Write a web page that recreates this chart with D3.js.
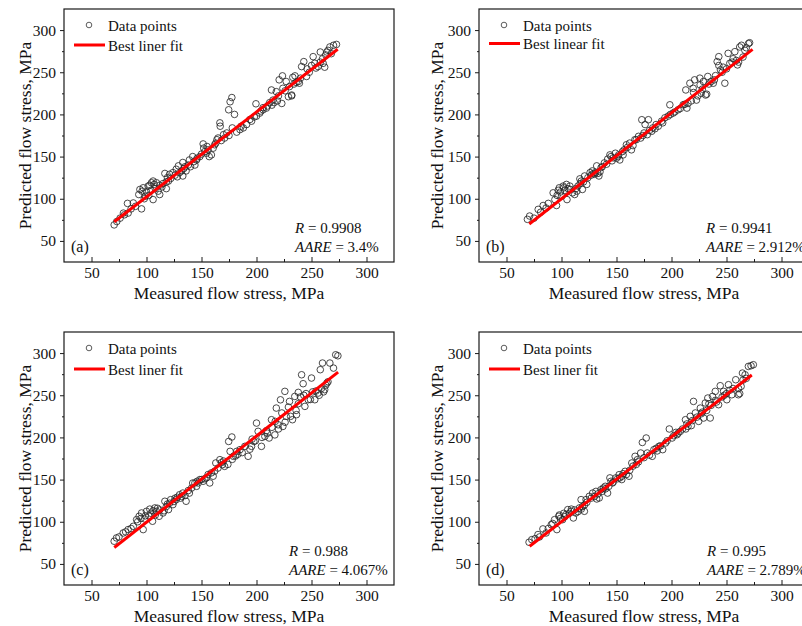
<!DOCTYPE html>
<html><head><meta charset="utf-8">
<script src="https://cdn.jsdelivr.net/npm/d3@7"></script>
<style>
body{margin:0;background:#fff}
svg{display:block}
text{font-family:"Liberation Serif","Times New Roman",serif;fill:#111}
</style>
</head><body>
<svg id="chart" width="802" height="626"></svg>
<script>
// ---------- data ----------
const axisDomain = [25, 325];
const majorTicks = [50, 100, 150, 200, 250, 300];
const minorTicks = [75, 125, 175, 225, 275];
const xTitle = "Measured flow stress, MPa";
const yTitle = "Predicted flow stress, MPa";
const panelLetters = ["(a)", "(b)", "(c)", "(d)"];
const pointLabel = "Data points";
const fitLabels = ["Best liner fit", "Best linear fit", "Best liner fit", "Best liner fit"];
const rValues = ["0.9908", "0.9941", "0.988", "0.995"];
const aareValues = ["3.4%", "2.912%", "4.067%", "2.789%"];

const fitA = [[70.7, 72.8], [273.8, 277.2]];
const fitB = [[70.7, 70.0], [273.7, 277.2]];
const fitC = [[70.7, 69.5], [274.2, 277.4]];
const fitD = [[71.0, 71.0], [273.0, 274.0]];

const pointsA = [[70.6,69],[73,73],[79,83],[82.7,94.5],[83.3,83],[88,95],[93,105],[94,111],[97,113],[95.5,88],[99,103],[101.5,115],[104.5,119],[106,121],[106,99],[109,119],[110.6,109],[112,105],[116.7,130],[118,112],[120,121],[121,129],[124,131],[127,135],[129,139],[132,133],[133,143],[133,127],[136,133],[139,146],[142,150],[144,140],[145.5,146],[148.5,150],[151.5,165],[152,160],[154.5,154],[157,150],[159,152],[160.6,160],[163,166],[165,172],[166.7,190],[167,186],[170,176],[173,178],[174.7,205.5],[176,215],[177.6,220],[180,200],[178,184],[182,179],[185,182],[188,184],[191,188],[195.5,192],[199.5,212.6],[200,198],[203,201.6],[206,205.5],[209,207.5],[213.6,229],[215,217],[218,227],[220.6,241],[223.6,245.7],[223,213],[227,239],[229,221],[232,223],[233,244],[235,245.7],[238,239],[241,256.7],[243,262.6],[245.5,245],[251.5,268.5],[253,260.6],[256,256.7],[258,274],[260.6,260.6],[263,270.5],[265,276],[266.7,280],[270,282],[272.7,283],
[76,77],[80,81],[86,88],[90,91],[98,100],[100,108],[102,104],[104,110],[108,112],[112,116],[114,114],[118,120],[122,124],[126,128],[130,131],[134,136],[138,140],[140,138],[146,148],[150,153],[153,156],[156,158],[162,164],[168,169],[175,175],[186,186],[194,194],[198,197],[204,204],[206,208],[210,210],[212,214],[216,214],[220,222],[226,228],[230,233],[232,222],[236,238],[240,243],[248,250],[254,255],[258,262],[262,256],[268,272],
[96,109],[103,116],[107,117],[115,118],[119,125],[128,126],[135,138],[143,144],[155,162],[164,170],[171,172],[214,211],[219,216],[224,231],[234,236],[239,237],[246,254],[250,258],[260,266],[264,274]];

const pointsB = [[69,75.6],[71,79.5],[78.8,87.4],[83.3,92],[88,94.5],[92.4,107],[94,99],[95.5,92],[98,113],[100,103],[101.5,115],[104.5,117],[105,99],[107.6,115],[110,107],[112,105],[115,115],[116.7,123.6],[119,111],[121,127],[123,117],[126,131],[128,133],[130,129],[132,139],[134,127],[136,137],[139,142.5],[142,147],[144,152],[147,148.5],[149,154],[151.5,150],[153,146],[155.5,156],[159,164],[162,166],[163.6,158],[166.7,170],[170,174],[173,193.7],[176,188],[179,193.7],[178,176],[182,180],[183,184],[186,188],[191,192],[194,196],[197,198],[198.5,211.4],[201.5,201.6],[206,205.5],[210.6,211.4],[213,229],[214,207.5],[216.7,237],[219.7,231],[221,241],[222.7,217],[225.8,243],[227,225],[229,239],[231,223],[233,245],[236,239],[239,241],[241.5,262.6],[243,268.5],[244.5,252.8],[248.5,237],[251.5,272.4],[253,260.6],[257.6,274.4],[260,258.7],[262,280],[263.6,282],[266.7,276],[270,284],[271,285],
[75,77],[81,84],[86,89],[96,104],[99,108],[103,110],[106,112],[113,112],[117,118],[120,120],[124,125],[127,128],[131,131],[133,130],[137,138],[141,141],[146,145],[150,148],[152,152],[157,158],[160,161],[165,163],[168,170],[172,172],[175,178],[180,181],[188,186],[192,190],[199,200],[203,203],[208,207],[212,212],[218,216],[224,222],[228,230],[234,236],[238,237],[246,250],[250,254],[255,262],[259,264],[265,268],[268,279],
[97,110],[102,113],[108,111],[114,109],[118,121],[129,130],[135,132],[145,150],[156,152],[174,175],[185,183],[215,213],[220,226],[226,235],[232,224],[240,246],[243,258],[247,256],[256,266],[261,262]];

const pointsC = [[70.6,76.9],[72.7,80.8],[78.8,86.7],[83.3,90.7],[88,94.6],[91,102.5],[93.3,106.5],[95.5,110.4],[97,90.7],[98.5,103.3],[100,112.4],[103,115],[105.5,100.6],[107.6,116.4],[109,112.4],[111.5,106.5],[115,110.4],[116.7,124.3],[120,114.4],[122,126.2],[124,120.3],[127,126.2],[130,132],[133,134],[136,124.3],[139,134],[142,145.9],[145.5,142],[148.5,150],[151.5,148],[154.5,152],[157.5,146],[160.6,154],[163,169.7],[165,163.7],[166.7,173.6],[169,167.7],[171,165.7],[174.7,195.2],[177.6,200.5],[176,183.5],[179,177.6],[182,183.5],[185,185.5],[189.4,189.4],[192.4,177.6],[195.5,189.4],[197.6,195.2],[200,217],[201.5,207.2],[204.5,189.4],[207.6,201.2],[211.5,199.3],[213.6,221],[216.7,203],[218,234.8],[219.7,215],[221.8,244.6],[224,213],[225.8,254.6],[227,225],[230,242.7],[232.7,221],[234.8,248.6],[236.4,227],[238,253.4],[241,274.3],[242.4,263.7],[244,236.8],[247,244.7],[250,270.4],[253,244.7],[256,252.6],[258,280.3],[260,288.2],[262,256.6],[264,264.5],[266.7,288.2],[270,282.2],[272,298],[274,296.8],
[75,82],[81,88],[86,92],[92,100],[95,104],[102,107],[104,110],[108,108],[112,114],[116,113],[118,118],[121,122],[125,124],[128,129],[131,128],[135,131],[138,137],[141,140],[144,146],[147,146],[150,150],[153,151],[156,156],[159,158],[162,160],[168,170],[174,168],[178,174],[183,180],[187,182],[194,186],[199,196],[205,200],[210,205],[214,212],[220,210],[226,218],[231,225],[236,232],[240,248],[245,252],[249,245],[254,255],[259,258],[263,262],
[99,107],[106,113],[110,116],[119,121],[126,128],[132,130],[146,148],[170,172],[181,178],[196,198],[209,208],[217,219],[223,229],[229,236],[238,240],[243,250],[251,254],[257,250],[261,254],[265,266]];

const pointsD = [[70.5,75.7],[73,78.8],[78.6,84.8],[83.1,91.5],[86,86.7],[90.7,96.5],[93.7,102.5],[95.8,90.7],[97.6,106.5],[101,102.5],[104,108.5],[105.7,114.4],[108.7,112.4],[110.8,104.5],[113,110.4],[116.3,116.4],[117.8,126.2],[120.8,112.4],[122.3,126.2],[125.3,130.2],[128.3,134],[131.3,136],[134.3,128.2],[135.8,138],[139.8,142],[141.9,134],[144,152],[146.4,146],[149.4,152],[152.4,155.8],[154.8,150],[157.8,159.8],[161.4,154],[163.9,169.7],[166.9,177.6],[169,173.6],[172,181.5],[173.5,194],[177,199.3],[178,181.5],[182.5,177.6],[184,185.5],[188.6,189.4],[192,185.5],[194.6,193.4],[198,210],[200.6,199.3],[205,203.2],[208,207.2],[212.7,221],[215,213],[217,225],[220,242.7],[221.7,229],[224.7,219],[226.2,234.8],[229.2,223],[230.7,240.8],[233,246.7],[235.2,223],[237.3,248.6],[239.8,254.6],[242.8,238.8],[244.3,261.3],[247.3,254.6],[250.3,244.7],[251.8,262.5],[254.8,250.6],[258.4,268.4],[260.8,250.6],[263.3,260.5],[264.5,276.3],[266.9,274.3],[269.9,284.2],[272.3,285],[274.4,286.2],
[76,80],[80,82],[88,92],[92,98],[99,104],[103,106],[107,110],[112,114],[115,112],[119,118],[123,123],[127,128],[130,130],[133,133],[137,136],[140,139],[143,142],[147,147],[151,151],[153,152],[156,157],[159,156],[162,161],[165,166],[170,171],[175,176],[180,179],[186,187],[190,190],[196,196],[202,202],[206,205],[210,210],[214,216],[218,214],[223,224],[227,228],[232,232],[236,238],[241,242],[246,248],[250,252],[256,258],[261,258],[265,268],[268,270],
[98,108],[102,110],[109,115],[118,115],[121,120],[132,127],[138,140],[145,148],[155,154],[168,168],[187,184],[204,206],[213,210],[219,220],[228,230],[234,240],[240,244],[248,250],[253,256],[262,252]];

// ---------- layout ----------
const W = 330, H = 253;
const panels = [
  {pts: pointsA, fit: fitA, left: 64,  top: 9,   yTitleOff: 33, annX: 231, legLine: 36},
  {pts: pointsB, fit: fitB, left: 479, top: 9,   yTitleOff: 36, annX: 227, legLine: 34.5},
  {pts: pointsC, fit: fitC, left: 64,  top: 332, yTitleOff: 33, annX: 225, legLine: 37},
  {pts: pointsD, fit: fitD, left: 479, top: 332, yTitleOff: 36, annX: 228, legLine: 37}
];

const svg = d3.select("#chart");
const x = d3.scaleLinear().domain(axisDomain).range([0, W]);
const y = d3.scaleLinear().domain(axisDomain).range([H, 0]);
const ink = "#1a1a1a";
const serif = "Liberation Serif, Times New Roman, serif";

panels.forEach((p, i) => {
  const g = svg.append("g").attr("transform", `translate(${p.left},${p.top})`);

  // bottom axis: ticks pointing inward
  const xAx = g.append("g").attr("transform", `translate(0,${H})`)
    .call(d3.axisBottom(x).tickValues(majorTicks).tickSizeInner(-5).tickSizeOuter(0).tickPadding(5));
  xAx.attr("font-family", serif).attr("font-size", 15.5);
  xAx.select(".domain").remove();
  xAx.selectAll("line").attr("stroke", ink).attr("stroke-width", 1);
  xAx.selectAll("text").attr("fill", ink);
  const xMin = g.append("g").attr("transform", `translate(0,${H})`)
    .call(d3.axisBottom(x).tickValues(minorTicks).tickSizeInner(-3).tickSizeOuter(0).tickFormat(""));
  xMin.select(".domain").remove();
  xMin.selectAll("line").attr("stroke", ink);

  // left axis: ticks pointing outward
  const yAx = g.append("g")
    .call(d3.axisLeft(y).tickValues(majorTicks).tickSizeInner(4).tickSizeOuter(0).tickPadding(4));
  yAx.attr("font-family", serif).attr("font-size", 15.5);
  yAx.select(".domain").remove();
  yAx.selectAll("line").attr("stroke", ink);
  yAx.selectAll("text").attr("fill", ink);
  const yMin = g.append("g")
    .call(d3.axisLeft(y).tickValues(minorTicks).tickSizeInner(2).tickSizeOuter(0).tickFormat(""));
  yMin.select(".domain").remove();
  yMin.selectAll("line").attr("stroke", ink);

  // frame
  g.append("rect").attr("width", W).attr("height", H)
    .attr("fill", "none").attr("stroke", ink).attr("stroke-width", 1.2);

  // data points
  g.append("g").selectAll("circle").data(p.pts).join("circle")
    .attr("cx", d => x(d[0])).attr("cy", d => y(d[1])).attr("r", 3.3)
    .attr("fill", "none").attr("stroke", "#2a2a2a").attr("stroke-width", 0.85);

  // fit line
  g.append("line")
    .attr("x1", x(p.fit[0][0])).attr("y1", y(p.fit[0][1]))
    .attr("x2", x(p.fit[1][0])).attr("y2", y(p.fit[1][1]))
    .attr("stroke", "#ff0000").attr("stroke-width", 3);

  // legend
  const lg = g.append("g");
  lg.append("circle").attr("cx", 25).attr("cy", 16).attr("r", 2.8)
    .attr("fill", "none").attr("stroke", "#333").attr("stroke-width", 0.8);
  lg.append("text").attr("x", 44).attr("y", 21.5).attr("font-size", 15).text(pointLabel);
  lg.append("line").attr("x1", 10).attr("x2", 41).attr("y1", p.legLine).attr("y2", p.legLine)
    .attr("stroke", "#ff0000").attr("stroke-width", 3);
  lg.append("text").attr("x", 44).attr("y", p.legLine + 5.5).attr("font-size", 15).text(fitLabels[i]);

  // panel letter
  g.append("text").attr("x", 7).attr("y", H - 10).attr("font-size", 16).text(panelLetters[i]);

  // statistics
  const t1 = g.append("text").attr("x", p.annX).attr("y", H - 29).attr("font-size", 15);
  t1.append("tspan").attr("font-style", "italic").text("R");
  t1.append("tspan").text(" = " + rValues[i]);
  const t2 = g.append("text").attr("x", p.annX).attr("y", H - 10).attr("font-size", 15);
  t2.append("tspan").attr("font-style", "italic").text("AARE");
  t2.append("tspan").text(" = " + aareValues[i]);

  // axis titles
  g.append("text").attr("x", W / 2).attr("y", H + 37).attr("text-anchor", "middle")
    .attr("font-size", 17.5).text(xTitle);
  g.append("text").attr("transform", `translate(${-p.yTitleOff},${H / 2}) rotate(-90)`)
    .attr("text-anchor", "middle").attr("font-size", 17.5).text(yTitle);
});
</script>
</body></html>
